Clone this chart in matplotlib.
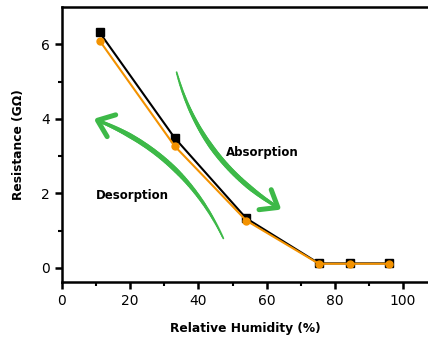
import numpy as np
import matplotlib
matplotlib.use("Agg")
import matplotlib.pyplot as plt
from matplotlib.collections import LineCollection
from matplotlib.lines import Line2D
from matplotlib.transforms import IdentityTransform

# data
humidity = [11, 33, 54, 75.3, 84.3, 95.9]
res_absorption = [6.32, 3.49, 1.33, 0.12, 0.12, 0.12]
res_desorption = [6.10, 3.27, 1.27, 0.11, 0.11, 0.11]

x_ticks = [0, 20, 40, 60, 80, 100]
y_ticks = [0, 2, 4, 6]

orange = "#F39200"
green = "#3DB948"

plt.rcParams['font.family'] = ['DejaVu Sans']

fig = plt.figure(figsize=(4.28, 3.42), dpi=100)
ax = fig.add_axes([62 / 428, 60 / 342, 366 / 428, 275 / 342])

ax.plot(humidity, res_absorption, color="black", lw=1.5, marker="s", ms=6, zorder=3)
ax.plot(humidity, res_desorption, color=orange, lw=1.5, marker="o", ms=5, zorder=4)

ax.set_xlim(0, 107.3)
ax.set_ylim(-0.38, 7.0)
ax.set_xticks(x_ticks)
ax.set_xticks(np.arange(10, 100, 20), minor=True)
ax.set_yticks(y_ticks)
ax.set_yticks([1, 3, 5], minor=True)

ax.spines['right'].set_visible(False)
for s in ['left', 'bottom', 'top']:
    ax.spines[s].set_linewidth(1.8)
ax.tick_params(which='major', direction='out', length=5, width=1.8, labelsize=10)
ax.tick_params(which='minor', direction='out', length=3, width=1.5)

ax.set_xlabel("Relative Humidity (%)", fontsize=8.8, fontweight='bold', labelpad=10)
ax.set_ylabel("Resistance (G\u03a9)", fontsize=8.8, fontweight='bold', labelpad=12)


def brush_arrow(start, end, rad, width=3.6, head=19, angle=38):
    # tapered curved stroke drawn in pixel space so the head follows the curve
    p0 = ax.transData.transform(start)
    p2 = ax.transData.transform(end)
    d = p2 - p0
    c = (p0 + p2) / 2 + rad * np.array([d[1], -d[0]])
    t = np.linspace(0, 1, 80)[:, None]
    pts = (1 - t) ** 2 * p0 + 2 * (1 - t) * t * c + t ** 2 * p2
    segs = np.stack([pts[:-1], pts[1:]], axis=1)
    tt = t[:-1, 0]
    widths = width * np.clip(0.35 + 1.4 * tt, 0, 1) * np.clip(0.6 + 2.0 * (1 - tt), 0, 1)
    lc = LineCollection(segs, linewidths=widths, colors=green, capstyle='round',
                        transform=IdentityTransform(), zorder=2)
    ax.add_collection(lc)
    u = (p2 - c) / np.linalg.norm(p2 - c)
    a = np.deg2rad(angle)
    rot = lambda v, th: np.array([v[0] * np.cos(th) - v[1] * np.sin(th),
                                  v[0] * np.sin(th) + v[1] * np.cos(th)])
    arm1 = p2 - head * rot(u, a)
    arm2 = p2 - head * rot(u, -a)
    hx = [arm1[0], p2[0], arm2[0]]
    hy = [arm1[1], p2[1], arm2[1]]
    ax.add_line(Line2D(hx, hy, color=green, lw=width, solid_capstyle='round',
                       solid_joinstyle='round', transform=IdentityTransform(), zorder=2))


brush_arrow((33.6, 5.25), (63.3, 1.62), 0.2)
brush_arrow((47.3, 0.79), (10.4, 3.96), 0.2)

ax.text(48.1, 3.10, "Absorption", fontsize=8.5, fontweight='bold', va='center')
ax.text(10.0, 1.95, "Desorption", fontsize=8.5, fontweight='bold', va='center')

fig.savefig("out.png", dpi=100)
